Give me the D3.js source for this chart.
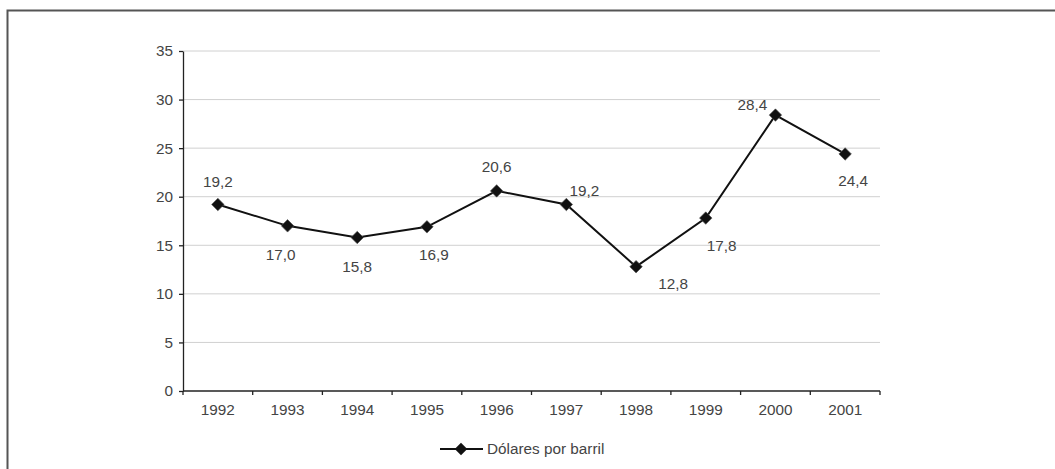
<!DOCTYPE html>
<html>
<head>
<meta charset="utf-8">
<script src="https://cdn.jsdelivr.net/npm/d3@7/dist/d3.min.js"></script>
<style>
  html, body { margin: 0; padding: 0; background: #fff; }
  svg { display: block; font-family: "Liberation Sans", Arial, sans-serif; }
</style>
</head>
<body>
<svg id="chart" width="1055" height="469"></svg>
<script>
// Oil price, dollars per barrel
const years = ["1992", "1993", "1994", "1995", "1996", "1997", "1998", "1999", "2000", "2001"];
const prices = [19.2, 17.0, 15.8, 16.9, 20.6, 19.2, 12.8, 17.8, 28.4, 24.4];
const yTicks = [0, 5, 10, 15, 20, 25, 30, 35];
const seriesName = "Dólares por barril";

// label offsets relative to each point (layout only)
const labelOffsets = [
  [0, -23], [-7, 29], [0, 29], [7, 28], [0, -24],
  [18, -14], [37, 17], [16, 28], [-23, -10], [8, 27]
];

const svg = d3.select("#chart");
const margin = { left: 183, right: 880, top: 51, bottom: 391 };
const textColor = "#444";
const fontSize = 15.3;

// outer frame
svg.append("path")
  .attr("d", "M7.5,469 V10.5 H1055")
  .attr("fill", "none").attr("stroke", "#555").attr("stroke-width", 2);

const x = d3.scaleBand().domain(years).range([margin.left, margin.right]);
const y = d3.scaleLinear().domain([0, 35]).range([margin.bottom, margin.top]);

// grid lines
svg.append("g").selectAll("line").data(yTicks.filter(d => d > 0)).join("line")
  .attr("x1", margin.left).attr("x2", margin.right)
  .attr("y1", d => y(d)).attr("y2", d => y(d))
  .attr("stroke", "#d0d0d0").attr("stroke-width", 1);

// y axis
const yAxis = svg.append("g").attr("transform", `translate(${margin.left},0)`)
  .call(d3.axisLeft(y).tickValues(yTicks).tickSize(4).tickSizeOuter(0).tickPadding(6));
yAxis.select(".domain").attr("stroke", "#222").attr("stroke-width", 1.3);
yAxis.selectAll(".tick line").attr("stroke", "#222").attr("stroke-width", 1.3);
yAxis.selectAll("text").attr("fill", textColor).attr("font-size", fontSize);

// x axis with ticks on band boundaries
const xAxis = svg.append("g").attr("transform", `translate(0,${margin.bottom})`);
xAxis.append("line").attr("x1", margin.left).attr("x2", margin.right)
  .attr("stroke", "#222").attr("stroke-width", 1.3);
const bounds = years.map(d => x(d)).concat([x(years[years.length - 1]) + x.bandwidth()]);
xAxis.selectAll(".bt").data(bounds).join("line").attr("class", "bt")
  .attr("x1", d => d).attr("x2", d => d).attr("y1", 0).attr("y2", 4)
  .attr("stroke", "#222").attr("stroke-width", 1.3);
xAxis.selectAll("text").data(years).join("text")
  .attr("x", d => x(d) + x.bandwidth() / 2).attr("y", 19)
  .attr("text-anchor", "middle").attr("dy", "0.35em")
  .attr("fill", textColor).attr("font-size", fontSize).text(d => d);

const cx = (d, i) => x(years[i]) + x.bandwidth() / 2;

// line
svg.append("path")
  .datum(prices)
  .attr("d", d3.line().x(cx).y(d => y(d)))
  .attr("fill", "none").attr("stroke", "#111").attr("stroke-width", 2);

// diamond markers
const diamond = d3.symbol().type(d3.symbolSquare).size(78);
svg.append("g").selectAll("path").data(prices).join("path")
  .attr("d", diamond)
  .attr("transform", (d, i) => `translate(${cx(d, i)},${y(d)}) rotate(45)`)
  .attr("fill", "#111").attr("stroke", "#555").attr("stroke-width", 0.6);

// value labels
svg.append("g").selectAll("text").data(prices).join("text")
  .attr("x", (d, i) => cx(d, i) + labelOffsets[i][0])
  .attr("y", (d, i) => y(d) + labelOffsets[i][1])
  .attr("text-anchor", "middle").attr("dy", "0.35em")
  .attr("fill", textColor).attr("font-size", fontSize)
  .text(d => d.toFixed(1).replace(".", ","));

// legend
const lg = svg.append("g").attr("transform", "translate(440,449)");
lg.append("line").attr("x1", 0).attr("x2", 43).attr("stroke", "#111").attr("stroke-width", 2);
lg.append("path").attr("d", diamond).attr("transform", "translate(21,0) rotate(45)")
  .attr("fill", "#111");
lg.append("text").attr("x", 47).attr("dy", "0.35em")
  .attr("fill", textColor).attr("font-size", fontSize).text(seriesName);
</script>
</body>
</html>
